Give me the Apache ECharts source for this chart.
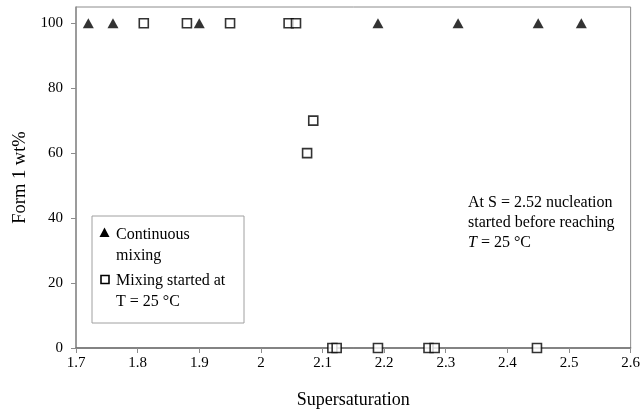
<!DOCTYPE html>
<html>
<head>
<meta charset="utf-8">
<script src="https://cdn.jsdelivr.net/npm/echarts@6/dist/echarts.min.js"></script>
<style>html,body{margin:0;padding:0;background:#fff}#c{width:643px;height:416px}</style>
</head>
<body>
<div id="c"></div>
<script>
var continuousX = [1.72, 1.76, 1.90, 2.19, 2.32, 2.45, 2.52];
var continuousY = [100, 100, 100, 100, 100, 100, 100];
var startedX = [1.81, 1.88, 1.95, 2.045, 2.057, 2.085, 2.075, 2.116, 2.123, 2.19, 2.272, 2.282, 2.448];
var startedY = [100, 100, 100, 100, 100, 70, 60, 0, 0, 0, 0, 0, 0];
var yTicks = [0, 20, 40, 60, 80, 100];
var seriesNames = ['Continuous mixing', 'Mixing started at T = 25 °C'];

function pairs(xs, ys) { return xs.map(function (x, i) { return [x, ys[i]]; }); }

var font = 'Liberation Serif, Times New Roman, serif';
var chart = echarts.init(document.getElementById('c'));
chart.setOption({
  animation: false,
  backgroundColor: '#fff',
  textStyle: { fontFamily: font },
  grid: { left: 76, right: 11, top: 7, bottom: 68, show: true, borderColor: '#8c8c8c', borderWidth: 1 },
  xAxis: {
    type: 'value', min: 1.7, max: 2.6, interval: 0.1,
    name: 'Supersaturation', nameLocation: 'middle', nameGap: 43,
    nameTextStyle: { fontFamily: font, fontSize: 18, color: '#000' },
    axisLine: { show: true, lineStyle: { color: '#6e6e6e', width: 1.5 } },
    axisTick: { show: true, length: 5, lineStyle: { color: '#8c8c8c' } },
    axisLabel: { fontFamily: font, fontSize: 15, color: '#000', margin: 8 },
    splitLine: { show: false }
  },
  yAxis: {
    type: 'value', min: 0, max: 105, interval: 20,
    name: 'Form 1 wt%', nameLocation: 'middle', nameGap: 44, nameRotate: 90,
    nameTextStyle: { fontFamily: font, fontSize: 18.5, color: '#000' },
    axisLine: { show: true, lineStyle: { color: '#8c8c8c', width: 1.5 } },
    axisTick: { show: true, length: 5, customValues: yTicks, lineStyle: { color: '#8c8c8c' } },
    axisLabel: { fontFamily: font, fontSize: 15, color: '#000', margin: 13, customValues: yTicks },
    splitLine: { show: false }
  },
  series: [
    {
      name: seriesNames[0], type: 'scatter', symbol: 'triangle', symbolSize: [11, 10],
      itemStyle: { color: '#000' },
      data: pairs(continuousX, continuousY)
    },
    {
      name: seriesNames[1], type: 'scatter', symbol: 'rect', symbolSize: 9,
      itemStyle: { color: '#fff', borderColor: '#000', borderWidth: 1.6 },
      data: pairs(startedX, startedY)
    }
  ],
  graphic: [
    { type: 'rect', shape: { x: 92, y: 216, width: 152, height: 107 }, style: { fill: '#fff', stroke: '#a0a0a0', lineWidth: 1 } },
    { type: 'polygon', shape: { points: [[104.5, 227.5], [109.5, 237], [99.5, 237]] }, style: { fill: '#000' } },
    { type: 'text', left: 116, top: 224, style: { text: 'Continuous\nmixing', font: '16px ' + font, fill: '#000', lineHeight: 21 } },
    { type: 'rect', shape: { x: 101, y: 275.5, width: 8, height: 8 }, style: { fill: '#fff', stroke: '#000', lineWidth: 1.6 } },
    { type: 'text', left: 116, top: 270, style: { text: 'Mixing started at\nT = 25 °C', font: '16px ' + font, fill: '#000', lineHeight: 21 } },
    { type: 'text', left: 468, top: 193, style: {
        text: 'At S = 2.52 nucleation\nstarted before reaching\n{i|T} = 25 °C',
        font: '16px ' + font, fill: '#000', lineHeight: 20,
        rich: { i: { fontStyle: 'italic', fontFamily: font, fontSize: 16, lineHeight: 20 } }
    } }
  ]
});
</script>
</body>
</html>
